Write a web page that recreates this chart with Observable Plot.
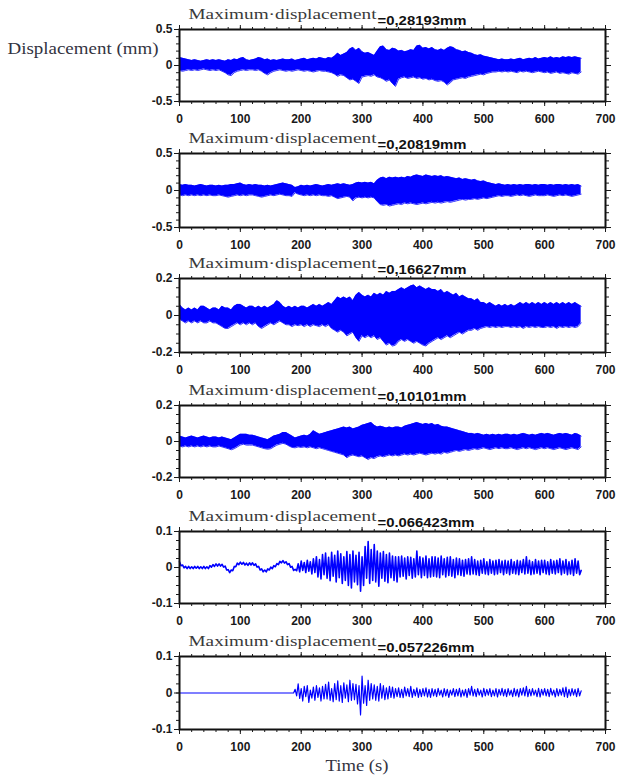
<!DOCTYPE html>
<html>
<head>
<meta charset="utf-8">
<script src="https://cdn.jsdelivr.net/npm/d3@7"></script>
<script src="https://cdn.jsdelivr.net/npm/@observablehq/plot@0.6"></script>
<style>
  body { margin: 0; background: #fff; }
  #chart { position: relative; width: 617px; height: 775px; background: #fff; }
  #chart svg { position: absolute; left: 0; }
</style>
</head>
<body>
<div id="chart"></div>
<script>
// ---------------- data ----------------
const titleText = "Maximum·displacement";
const maxLabels = ["=0,28193mm", "=0,20819mm", "=0,16627mm", "=0,10101mm", "=0.066423mm", "=0.057226mm"];
const yLimits = [0.5, 0.5, 0.2, 0.2, 0.1, 0.1];
const yMajorTicks = [[-0.5, 0, 0.5], [-0.5, 0, 0.5], [-0.2, 0, 0.2], [-0.2, 0, 0.2], [-0.1, 0, 0.1], [-0.1, 0, 0.1]];
const yMinorStep = [0.1, 0.1, 0.05, 0.05, 0.025, 0.025];
const xMajorTicks = [0, 100, 200, 300, 400, 500, 600, 700];
const yAxisTitle = "Displacement (mm)";
const xAxisTitle = "Time (s)";

// panels 1-4: dense records drawn as their upper / lower envelope, one reading every 5 s (t = 0 … 660 s)
const bandStep = 5;
const hi1 = [
  0.11,0.10,0.09,0.08,0.07,0.08,0.07,0.06,0.07,0.08,0.07,0.08,
  0.07,0.08,0.07,0.06,0.08,0.07,0.09,0.08,0.10,0.11,0.08,0.07,
  0.08,0.09,0.11,0.10,0.08,0.09,0.07,0.08,0.07,0.08,0.09,0.08,
  0.08,0.09,0.07,0.08,0.09,0.10,0.08,0.09,0.10,0.09,0.11,0.10,
  0.09,0.11,0.10,0.13,0.17,0.14,0.16,0.18,0.23,0.25,0.21,0.24,
  0.19,0.17,0.18,0.16,0.14,0.20,0.26,0.27,0.22,0.21,0.24,0.23,
  0.20,0.21,0.19,0.20,0.22,0.21,0.27,0.28,0.24,0.25,0.23,0.25,
  0.22,0.21,0.23,0.21,0.24,0.26,0.25,0.22,0.21,0.19,0.20,0.18,
  0.17,0.15,0.14,0.15,0.13,0.12,0.11,0.10,0.09,0.08,0.09,0.08,
  0.08,0.09,0.08,0.09,0.10,0.08,0.09,0.10,0.09,0.11,0.09,0.10,
  0.11,0.10,0.12,0.10,0.11,0.10,0.12,0.11,0.12,0.11,0.12,0.11,
  0.10
];
const lo1 = [
  -0.07,-0.08,-0.07,-0.06,-0.07,-0.06,-0.07,-0.06,-0.05,-0.06,-0.07,-0.06,
  -0.07,-0.06,-0.08,-0.10,-0.13,-0.14,-0.10,-0.08,-0.07,-0.06,-0.07,-0.06,
  -0.06,-0.07,-0.06,-0.08,-0.11,-0.13,-0.10,-0.08,-0.07,-0.06,-0.07,-0.08,
  -0.07,-0.08,-0.07,-0.06,-0.07,-0.08,-0.07,-0.08,-0.09,-0.08,-0.07,-0.08,
  -0.08,-0.09,-0.10,-0.12,-0.15,-0.13,-0.14,-0.17,-0.20,-0.19,-0.22,-0.25,
  -0.16,-0.15,-0.14,-0.15,-0.13,-0.16,-0.17,-0.19,-0.22,-0.20,-0.25,-0.29,
  -0.19,-0.17,-0.16,-0.18,-0.17,-0.16,-0.18,-0.17,-0.19,-0.18,-0.20,-0.19,
  -0.21,-0.22,-0.21,-0.23,-0.27,-0.24,-0.20,-0.19,-0.18,-0.17,-0.18,-0.16,
  -0.15,-0.14,-0.13,-0.12,-0.13,-0.11,-0.10,-0.09,-0.09,-0.08,-0.09,-0.08,
  -0.09,-0.08,-0.09,-0.10,-0.08,-0.09,-0.08,-0.09,-0.10,-0.09,-0.08,-0.09,
  -0.10,-0.09,-0.11,-0.10,-0.09,-0.11,-0.10,-0.11,-0.12,-0.10,-0.11,-0.12,
  -0.09
];
const hi2 = [
  0.08,0.07,0.08,0.07,0.07,0.06,0.07,0.08,0.07,0.06,0.07,0.07,
  0.06,0.07,0.06,0.07,0.07,0.08,0.08,0.09,0.10,0.08,0.07,0.08,
  0.07,0.08,0.07,0.07,0.06,0.07,0.06,0.07,0.08,0.09,0.10,0.09,
  0.08,0.07,0.04,0.05,0.07,0.06,0.07,0.06,0.07,0.08,0.07,0.06,
  0.07,0.08,0.07,0.08,0.09,0.08,0.09,0.08,0.07,0.08,0.10,0.11,
  0.10,0.11,0.10,0.11,0.09,0.14,0.17,0.18,0.16,0.18,0.17,0.18,
  0.17,0.18,0.17,0.19,0.18,0.20,0.21,0.20,0.19,0.21,0.20,0.19,
  0.20,0.19,0.20,0.18,0.19,0.18,0.17,0.16,0.17,0.15,0.16,0.15,
  0.14,0.15,0.13,0.12,0.13,0.11,0.10,0.09,0.08,0.09,0.08,0.07,
  0.08,0.07,0.08,0.07,0.08,0.07,0.08,0.08,0.07,0.08,0.07,0.08,
  0.08,0.07,0.08,0.07,0.08,0.08,0.07,0.08,0.07,0.08,0.07,0.08,
  0.06
];
const lo2 = [
  -0.06,-0.07,-0.06,-0.07,-0.06,-0.07,-0.06,-0.07,-0.06,-0.07,-0.06,-0.07,
  -0.07,-0.06,-0.07,-0.08,-0.09,-0.08,-0.07,-0.06,-0.07,-0.06,-0.07,-0.06,
  -0.06,-0.07,-0.08,-0.09,-0.08,-0.07,-0.06,-0.07,-0.06,-0.05,-0.06,-0.07,
  -0.07,-0.08,-0.03,-0.05,-0.06,-0.07,-0.06,-0.07,-0.06,-0.07,-0.06,-0.07,
  -0.07,-0.08,-0.07,-0.09,-0.11,-0.10,-0.09,-0.08,-0.09,-0.14,-0.10,-0.09,
  -0.10,-0.09,-0.10,-0.09,-0.10,-0.15,-0.19,-0.20,-0.19,-0.21,-0.20,-0.19,
  -0.18,-0.19,-0.17,-0.18,-0.17,-0.18,-0.19,-0.18,-0.17,-0.18,-0.17,-0.16,
  -0.17,-0.16,-0.17,-0.16,-0.15,-0.16,-0.15,-0.14,-0.13,-0.12,-0.13,-0.12,
  -0.12,-0.11,-0.12,-0.11,-0.10,-0.11,-0.10,-0.09,-0.08,-0.07,-0.08,-0.07,
  -0.07,-0.08,-0.07,-0.06,-0.07,-0.06,-0.07,-0.08,-0.07,-0.06,-0.07,-0.07,
  -0.07,-0.06,-0.07,-0.08,-0.07,-0.06,-0.07,-0.06,-0.07,-0.08,-0.07,-0.06,
  -0.05
];
const hi3 = [
  0.06,0.04,0.03,0.04,0.03,0.04,0.03,0.05,0.05,0.04,0.03,0.04,
  0.04,0.03,0.05,0.04,0.04,0.03,0.05,0.06,0.06,0.05,0.04,0.05,
  0.05,0.04,0.05,0.04,0.05,0.04,0.05,0.06,0.08,0.07,0.05,0.04,
  0.05,0.04,0.05,0.04,0.05,0.05,0.04,0.05,0.06,0.05,0.06,0.05,
  0.06,0.07,0.06,0.08,0.10,0.09,0.10,0.09,0.10,0.08,0.11,0.125,
  0.11,0.10,0.11,0.10,0.12,0.11,0.12,0.11,0.13,0.12,0.13,0.13,
  0.14,0.15,0.14,0.15,0.16,0.165,0.15,0.16,0.15,0.14,0.15,0.14,
  0.14,0.13,0.14,0.12,0.13,0.12,0.11,0.12,0.10,0.11,0.10,0.09,
  0.09,0.08,0.09,0.07,0.07,0.06,0.07,0.06,0.05,0.06,0.05,0.06,
  0.05,0.06,0.05,0.06,0.07,0.06,0.07,0.06,0.07,0.06,0.07,0.06,
  0.07,0.06,0.07,0.06,0.07,0.06,0.07,0.06,0.07,0.06,0.07,0.06,
  0.05
];
const lo3 = [
  -0.02,-0.03,-0.04,-0.03,-0.04,-0.03,-0.04,-0.03,-0.04,-0.04,-0.03,-0.04,
  -0.04,-0.05,-0.06,-0.07,-0.07,-0.06,-0.05,-0.04,-0.05,-0.04,-0.05,-0.04,
  -0.05,-0.04,-0.06,-0.07,-0.06,-0.05,-0.04,-0.05,-0.04,-0.03,-0.04,-0.05,
  -0.05,-0.06,-0.05,-0.055,-0.05,-0.06,-0.05,-0.06,-0.05,-0.055,-0.06,-0.05,
  -0.06,-0.05,-0.07,-0.08,-0.09,-0.08,-0.09,-0.11,-0.10,-0.09,-0.12,-0.14,
  -0.11,-0.12,-0.11,-0.12,-0.11,-0.13,-0.12,-0.14,-0.16,-0.15,-0.165,-0.16,
  -0.14,-0.13,-0.14,-0.13,-0.14,-0.15,-0.14,-0.15,-0.16,-0.165,-0.15,-0.14,
  -0.13,-0.12,-0.13,-0.12,-0.11,-0.12,-0.11,-0.10,-0.09,-0.10,-0.09,-0.08,
  -0.08,-0.07,-0.08,-0.07,-0.065,-0.06,-0.065,-0.06,-0.065,-0.06,-0.065,-0.06,
  -0.06,-0.065,-0.06,-0.065,-0.06,-0.07,-0.06,-0.065,-0.06,-0.065,-0.06,-0.065,
  -0.065,-0.06,-0.065,-0.06,-0.07,-0.06,-0.065,-0.06,-0.065,-0.06,-0.065,-0.06,
  -0.04
];
const hi4 = [
  0.03,0.025,0.02,0.025,0.03,0.025,0.02,0.025,0.03,0.025,0.02,0.025,
  0.025,0.02,0.025,0.02,0.015,0.01,0.02,0.03,0.04,0.04,0.04,0.035,
  0.035,0.03,0.025,0.02,0.015,0.01,0.02,0.03,0.035,0.04,0.05,0.05,
  0.04,0.03,0.02,0.025,0.03,0.035,0.03,0.04,0.06,0.05,0.04,0.045,
  0.05,0.055,0.06,0.065,0.07,0.075,0.08,0.075,0.08,0.07,0.075,0.08,
  0.09,0.095,0.10,0.105,0.09,0.08,0.085,0.08,0.075,0.08,0.075,0.08,
  0.08,0.075,0.085,0.09,0.095,0.10,0.105,0.10,0.095,0.10,0.095,0.10,
  0.09,0.095,0.085,0.08,0.08,0.075,0.07,0.065,0.06,0.055,0.05,0.045,
  0.045,0.04,0.045,0.04,0.035,0.04,0.035,0.04,0.035,0.04,0.035,0.04,
  0.04,0.035,0.04,0.035,0.04,0.045,0.04,0.035,0.04,0.035,0.04,0.045,
  0.04,0.045,0.04,0.035,0.04,0.045,0.04,0.045,0.04,0.035,0.045,0.04,
  0.03
];
const lo4 = [
  -0.025,-0.03,-0.025,-0.03,-0.025,-0.03,-0.025,-0.03,-0.025,-0.03,-0.025,-0.03,
  -0.03,-0.025,-0.03,-0.035,-0.04,-0.046,-0.04,-0.03,-0.02,-0.015,-0.02,-0.02,
  -0.02,-0.025,-0.03,-0.035,-0.04,-0.043,-0.04,-0.03,-0.02,-0.015,-0.01,-0.015,
  -0.025,-0.033,-0.035,-0.03,-0.033,-0.03,-0.035,-0.03,-0.035,-0.04,-0.035,-0.04,
  -0.045,-0.05,-0.055,-0.06,-0.065,-0.07,-0.075,-0.09,-0.08,-0.075,-0.08,-0.085,
  -0.08,-0.09,-0.10,-0.09,-0.095,-0.085,-0.08,-0.085,-0.08,-0.075,-0.08,-0.075,
  -0.08,-0.075,-0.07,-0.075,-0.07,-0.075,-0.07,-0.065,-0.07,-0.075,-0.07,-0.065,
  -0.07,-0.065,-0.07,-0.06,-0.065,-0.06,-0.055,-0.05,-0.055,-0.05,-0.045,-0.05,
  -0.045,-0.04,-0.045,-0.04,-0.035,-0.04,-0.045,-0.04,-0.035,-0.04,-0.035,-0.04,
  -0.04,-0.035,-0.04,-0.045,-0.04,-0.035,-0.04,-0.035,-0.04,-0.045,-0.04,-0.035,
  -0.04,-0.035,-0.04,-0.045,-0.04,-0.035,-0.04,-0.045,-0.04,-0.035,-0.04,-0.045,
  -0.03
];

// panels 5-6: records drawn as lines, one reading every 2.5 s (t = 0 … 660 s)
const lineStep = 2.5;
const disp5 = [
  0.016,0.005,0.007,-0.001,0.003,-0.003,0.003,-0.003,0.002,-0.003,0.003,-0.002,0.003,-0.003,0.002,-0.003,0.003,-0.003,0.002,-0.003,0.005,0.001,0.008,0.003,
  0.010,0.004,0.010,0.004,0.009,0.001,0.004,-0.007,-0.006,-0.014,-0.007,-0.009,0.003,0.002,0.012,0.008,0.015,0.009,0.014,0.007,0.012,0.006,0.013,0.007,
  0.013,0.006,0.010,0.001,0.003,-0.007,-0.004,-0.012,-0.007,-0.012,-0.004,-0.007,0.001,-0.003,0.005,0.002,0.011,0.008,0.017,0.013,0.019,0.012,0.016,0.008,
  0.011,0.001,0.003,-0.008,-0.005,-0.009,0.010,-0.012,0.018,-0.008,0.014,-0.014,0.020,-0.010,0.016,-0.018,0.024,-0.014,0.030,-0.026,0.022,-0.032,0.036,-0.020,
  0.040,-0.030,0.028,-0.037,0.042,-0.024,0.034,-0.040,0.046,-0.028,0.038,-0.044,0.030,-0.036,0.044,-0.050,0.036,-0.057,0.046,-0.040,0.034,-0.048,0.042,-0.066,
  0.030,-0.050,0.058,-0.030,0.072,-0.044,0.050,-0.036,0.064,-0.040,0.046,-0.052,0.040,-0.030,0.044,-0.038,0.036,-0.042,0.040,-0.028,0.032,-0.036,0.030,-0.040,
  0.030,-0.026,0.032,-0.024,0.026,-0.032,0.030,-0.022,0.028,-0.030,0.024,-0.026,0.046,-0.020,0.030,-0.028,0.026,-0.022,0.032,-0.028,0.024,-0.026,0.030,-0.024,
  0.030,-0.026,0.026,-0.028,0.032,-0.020,0.024,-0.026,0.028,-0.022,0.030,-0.024,0.022,-0.028,0.026,-0.020,0.024,-0.022,0.020,-0.024,0.022,-0.018,0.024,-0.020,
  0.030,-0.018,0.022,-0.020,0.018,-0.022,0.020,-0.016,0.024,-0.018,0.016,-0.020,0.022,-0.016,0.018,-0.020,0.020,-0.018,0.022,-0.014,0.018,-0.020,0.020,-0.016,
  0.018,-0.020,0.022,-0.016,0.016,-0.018,0.020,-0.020,0.018,-0.014,0.022,-0.018,0.030,-0.016,0.020,-0.020,0.016,-0.018,0.022,-0.016,0.018,-0.020,0.020,-0.014,
  0.020,-0.018,0.016,-0.020,0.022,-0.016,0.018,-0.018,0.020,-0.014,0.024,-0.020,0.018,-0.016,0.022,-0.020,0.016,-0.018,0.020,-0.022,0.024,-0.016,0.018,-0.020,
  -0.008
];
const disp6 = [
  0,0,0,0,0,0,0,0,0,0,0,0,0,0,0,0,0,0,0,0,0,0,0,0,
  0,0,0,0,0,0,0,0,0,0,0,0,0,0,0,0,0,0,0,0,0,0,0,0,
  0,0,0,0,0,0,0,0,0,0,0,0,0,0,0,0,0,0,0,0,0,0,0,0,
  0,0,0,0,0.010,-0.008,0.025,-0.015,0.012,-0.022,0.018,-0.010,0.020,-0.026,0.008,-0.014,0.016,-0.020,0.020,-0.012,0.014,-0.022,0.018,-0.016,
  0.024,-0.016,0.030,-0.020,0.012,-0.024,0.026,-0.018,0.033,-0.022,0.020,-0.026,0.028,-0.014,0.022,-0.024,0.035,-0.020,0.026,-0.018,0.024,-0.030,0.020,-0.060,
  0.046,-0.028,0.020,-0.034,0.035,-0.020,0.026,-0.016,0.022,-0.020,0.018,-0.022,0.026,-0.014,0.020,-0.018,0.014,-0.016,0.018,-0.012,0.016,-0.014,0.012,-0.010,
  0.014,-0.012,0.010,-0.013,0.016,-0.008,0.012,-0.010,0.018,-0.012,0.010,-0.008,0.014,-0.012,0.010,-0.010,0.012,-0.008,0.014,-0.011,0.010,-0.012,0.012,-0.008,
  0.010,-0.010,0.013,-0.006,0.008,-0.011,0.012,-0.008,0.010,-0.012,0.008,-0.006,0.012,-0.010,0.010,-0.008,0.013,-0.011,0.008,-0.008,0.010,-0.012,0.012,-0.006,
  0.018,-0.008,0.010,-0.010,0.012,-0.006,0.008,-0.011,0.013,-0.008,0.010,-0.006,0.012,-0.010,0.008,-0.008,0.012,-0.011,0.010,-0.006,0.013,-0.008,0.010,-0.010,
  0.012,-0.006,0.008,-0.010,0.013,-0.008,0.010,-0.011,0.012,-0.006,0.014,-0.008,0.018,-0.010,0.010,-0.008,0.012,-0.006,0.008,-0.010,0.013,-0.011,0.010,-0.006,
  0.012,-0.008,0.010,-0.010,0.013,-0.006,0.008,-0.011,0.012,-0.008,0.010,-0.006,0.014,-0.010,0.016,-0.012,0.010,-0.008,0.012,-0.006,0.010,-0.010,0.013,-0.008,
  0.006
];

const bandsHi = [hi1, hi2, hi3, hi4];
const bandsLo = [lo1, lo2, lo3, lo4];
const lineSeries = [disp5, disp6];

// ---------------- layout ----------------
const W = 617, mLeft = 179, mRight = 12, mTop = 28;
const frameTops = [29, 153, 278, 405, 531, 656];
const frameBottoms = [101, 227, 352, 477, 603, 729];
const lineWidths = [1.6, 1.2];
const blue = "#0000ff";
const serif = "'Liberation Serif', 'Times New Roman', serif";
const sans = "'Liberation Sans', Arial, sans-serif";
const fmtY = d => (d === 0 ? "0" : String(d));

const chart = document.getElementById("chart");

for (let k = 0; k < 6; k++) {
  const lim = yLimits[k];
  const yMinor = d3.range(-lim, lim + 1e-9, yMinorStep[k]);
  const xMinor = d3.range(0, 701, 20);
  const h = frameBottoms[k] - frameTops[k];
  const last = k === 5;
  const mBottom = last ? 46 : 25;

  let signalMark;
  if (k < 4) {
    const hi = bandsHi[k], lo = bandsLo[k];
    const data = hi.map((v, i) => ({t: i * bandStep, hi: v, lo: lo[i]}));
    signalMark = [
      Plot.areaY(data, {x: "t", y1: "lo", y2: "hi", fill: blue}),
      Plot.line(data, {x: "t", y: "hi", stroke: blue, strokeWidth: 0.8}),
      Plot.line(data, {x: "t", y: "lo", stroke: blue, strokeWidth: 0.8})
    ];
  } else {
    const vals = lineSeries[k - 4];
    const data = vals.map((v, i) => ({t: i * lineStep, v}));
    signalMark = [Plot.line(data, {x: "t", y: "v", stroke: blue, strokeWidth: lineWidths[k - 4]})];
  }

  const marks = [
    ...signalMark,
    Plot.frame({stroke: "#111", strokeWidth: 2}),
    Plot.axisX(xMinor, {anchor: "bottom", tickSize: 3, tickFormat: () => "", label: null}),
    Plot.axisX(xMajorTicks, {anchor: "bottom", tickSize: 5, tickPadding: 8, tickFormat: d => String(d), label: null, fontSize: 12, fontWeight: "bold"}),
    Plot.axisX(xMinor, {anchor: "top", tickSize: 3, tickFormat: () => "", label: null}),
    Plot.axisX(xMajorTicks, {anchor: "top", tickSize: 5, tickFormat: () => "", label: null}),
    Plot.axisY(yMinor, {anchor: "left", tickSize: 3, tickFormat: () => "", label: null}),
    Plot.axisY(yMajorTicks[k], {anchor: "left", tickSize: 5, tickPadding: 2, tickFormat: fmtY, label: null, fontSize: 12, fontWeight: "bold"}),
    Plot.axisY(yMinor, {anchor: "right", tickSize: 3, tickFormat: () => "", label: null}),
    Plot.axisY(yMajorTicks[k], {anchor: "right", tickSize: 5, tickFormat: () => "", label: null}),
    Plot.text([titleText], {text: d => d, frameAnchor: "top-left", dx: 9, dy: -11, lineAnchor: "bottom", textAnchor: "start",
      fontFamily: serif, fontSize: 15.5, fill: "#3a3a3a"}),
    Plot.text([maxLabels[k]], {text: d => d, frameAnchor: "top-left", dx: 198, dy: -5, lineAnchor: "bottom", textAnchor: "start",
      fontFamily: sans, fontSize: 12, fontWeight: "bold", fill: "#111"})
  ];
  if (k === 0) {
    marks.push(Plot.text([yAxisTitle], {text: d => d, frameAnchor: "top-left", dx: -172, dy: 24, lineAnchor: "bottom", textAnchor: "start",
      fontFamily: serif, fontSize: 17, fill: "#33333f"}));
  }
  if (last) {
    marks.push(Plot.text([xAxisTitle], {text: d => d, frameAnchor: "bottom-left", dx: 146, dy: 41, lineAnchor: "bottom", textAnchor: "start",
      fontFamily: serif, fontSize: 17, fill: "#33333f"}));
  }

  const svg = Plot.plot({
    width: W,
    height: mTop + h + mBottom,
    marginLeft: mLeft,
    marginRight: mRight,
    marginTop: mTop,
    marginBottom: mBottom,
    x: {domain: [0, 700], axis: null, label: null},
    y: {domain: [-lim, lim], axis: null, label: null},
    style: {background: "transparent", overflow: "visible", fontFamily: sans, fontSize: "12px", color: "#1a1a1a"},
    marks
  });
  svg.style.top = (frameTops[k] - mTop) + "px";

  svg.querySelectorAll("text").forEach(el => {
    const s = el.textContent;
    let len = null;
    if (s === titleText) len = 188;
    else if (s.startsWith("=")) len = s.length > 10 ? 97 : 89;
    else if (s === yAxisTitle) len = 151;
    else if (s === xAxisTitle) len = 63;
    if (len) {
      el.setAttribute("textLength", len);
      el.setAttribute("lengthAdjust", "spacingAndGlyphs");
    }
  });
  chart.appendChild(svg);
}
</script>
</body>
</html>
